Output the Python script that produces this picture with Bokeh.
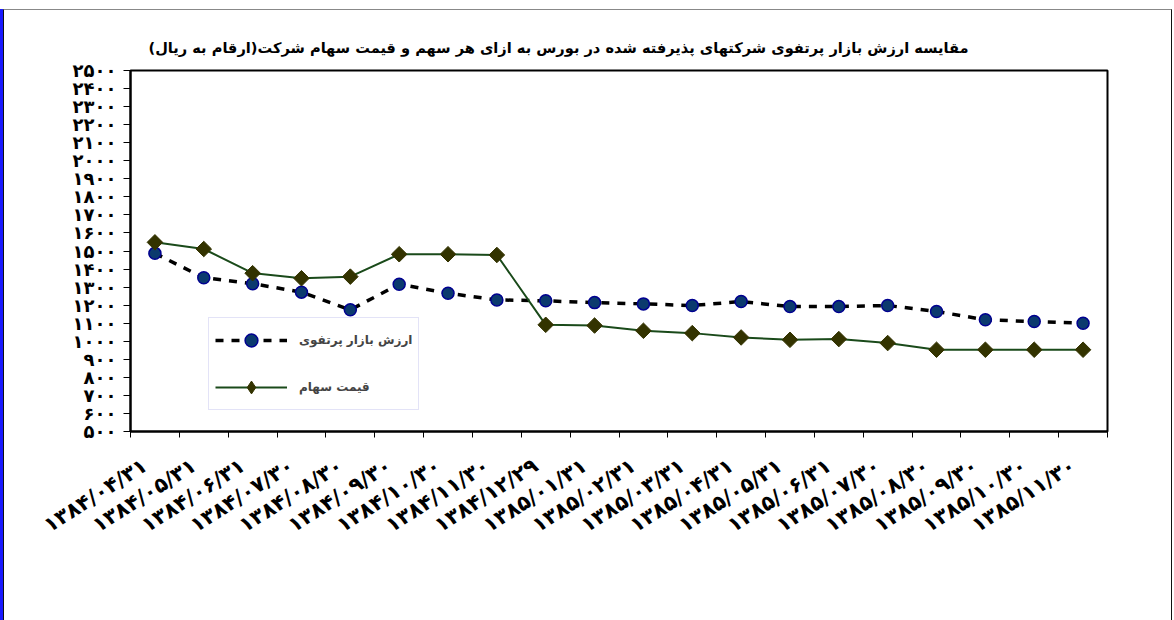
import math
from bokeh.plotting import figure
from bokeh.models import ColumnDataSource, Range1d, FixedTicker, Legend, LegendItem, Title
from bokeh.embed import file_html
from bokeh.resources import INLINE

FA = str.maketrans("0123456789", "۰۱۲۳۴۵۶۷۸۹")

dates = ["۱۳۸۴/۰۴/۳۱", "۱۳۸۴/۰۵/۳۱", "۱۳۸۴/۰۶/۳۱", "۱۳۸۴/۰۷/۳۰", "۱۳۸۴/۰۸/۳۰",
         "۱۳۸۴/۰۹/۳۰", "۱۳۸۴/۱۰/۳۰", "۱۳۸۴/۱۱/۳۰", "۱۳۸۴/۱۲/۲۹", "۱۳۸۵/۰۱/۳۱",
         "۱۳۸۵/۰۲/۳۱", "۱۳۸۵/۰۳/۳۱", "۱۳۸۵/۰۴/۳۱", "۱۳۸۵/۰۵/۳۱", "۱۳۸۵/۰۶/۳۱",
         "۱۳۸۵/۰۷/۳۰", "۱۳۸۵/۰۸/۳۰", "۱۳۸۵/۰۹/۳۰", "۱۳۸۵/۱۰/۳۰", "۱۳۸۵/۱۱/۳۰"]
portfolio = [1487, 1352, 1319, 1272, 1174, 1316, 1266, 1229, 1224, 1214,
             1207, 1198, 1220, 1192, 1192, 1198, 1165, 1119, 1109, 1100]
price = [1548, 1511, 1377, 1349, 1358, 1482, 1482, 1478, 1091, 1087,
         1058, 1045, 1021, 1008, 1012, 990, 953, 953, 953, 953]
y_ticks = list(range(500, 2501, 100))
y_tick_labels = [str(v).translate(FA) for v in y_ticks]

title_text = "مقایسه ارزش بازار پرتفوی شرکتهای پذیرفته شده  در بورس  به ازای هر سهم و قیمت سهام شرکت(ارقام به ریال)"
name_portfolio = "ارزش بازار پرتفوی"
name_price = "قیمت سهام"

x_centers = [i + 0.5 for i in range(len(dates))]
x_bounds = list(range(len(dates) + 1))
LABEL_SHIFT = 0.2  # rotated labels sit a little left of their category centre
x_label_pos = [c - LABEL_SHIFT for c in x_centers]

src = ColumnDataSource(dict(x=x_centers, portfolio=portfolio, price=price))
legend_src = ColumnDataSource(dict(x=[float("nan")], y=[float("nan")]))

FONT = "DejaVu Sans"

p = figure(width=1169, height=611, output_backend="svg", toolbar_location=None,
           x_range=Range1d(0, len(dates)), y_range=Range1d(500, 2500),
           min_border_left=126, min_border_right=66, min_border_top=60, min_border_bottom=190)
p.margin = (9, 0, 0, 3)
p.styles = {"border-top": "1px solid #888", "border-right": "1px solid #111",
            "border-left": "1px solid #111", "box-shadow": "-3px 0 0 0 #1a1aff"}
p.xgrid.visible = False
p.ygrid.visible = False
p.outline_line_color = "black"
p.outline_line_width = 2
p.background_fill_color = "white"
p.border_fill_color = "white"

# x axis
p.xaxis.ticker = FixedTicker(ticks=x_label_pos, minor_ticks=x_bounds)
p.xaxis.major_label_overrides = {c: d for c, d in zip(x_label_pos, dates)}
p.xaxis.major_tick_line_color = None
p.xaxis.minor_tick_out = 6
p.xaxis.minor_tick_in = 0
p.xaxis.minor_tick_line_color = "black"
p.xaxis.minor_tick_line_width = 1
p.xaxis.axis_line_width = 2
p.xaxis.major_label_orientation = 0.57
p.xaxis.major_label_standoff = 26
p.xaxis.major_label_text_font = FONT
p.xaxis.major_label_text_font_style = "bold"
p.xaxis.major_label_text_font_size = "21px"
p.xaxis.major_label_text_color = "black"

# y axis
p.yaxis.ticker = FixedTicker(ticks=y_ticks, minor_ticks=[])
p.yaxis.major_label_overrides = {v: l for v, l in zip(y_ticks, y_tick_labels)}
p.yaxis.major_tick_out = 7
p.yaxis.major_tick_in = 0
p.yaxis.axis_line_width = 2
p.yaxis.major_label_standoff = 7
p.yaxis.major_label_text_font = FONT
p.yaxis.major_label_text_font_style = "bold"
p.yaxis.major_label_text_font_size = "18px"
p.yaxis.major_label_text_color = "black"

# series
l1 = p.line("x", "portfolio", source=src, line_color="black", line_width=3.5, line_dash="8 8")
m1 = p.scatter("x", "portfolio", source=src, marker="circle", size=12,
               fill_color="#0b3a6e", line_color="#000090", line_width=1.5)
l2 = p.line("x", "price", source=src, line_color="#1a4a1a", line_width=2)
m2 = p.scatter("x", "price", source=src, marker="square", angle=math.pi / 4, size=11,
               fill_color="#333300", line_color="#333300")
m2_leg = p.scatter("x", "y", source=legend_src, marker="diamond", size=17,
                   fill_color="#333300", line_color="#333300")

legend = Legend(items=[LegendItem(label=name_portfolio, renderers=[l1, m1]),
                       LegendItem(label=name_price, renderers=[l2, m2_leg])],
                location=(78, 21), orientation="vertical",
                glyph_width=72, glyph_height=32, label_height=20,
                spacing=15, padding=6, margin=0,
                label_text_font=FONT, label_text_font_style="bold",
                label_text_font_size="12px", label_standoff=12,
                border_line_color="#c8c8f0", border_line_width=1,
                background_fill_color="white", background_fill_alpha=1)
p.add_layout(legend, "center")

title = Title(text=title_text + "\u200f", align="left", offset=18, standoff=30,
              text_font=FONT, text_font_style="bold", text_font_size="14.6px",
              text_color="black")
p.add_layout(title, "above")

open("out.html", "w").write(file_html(p, INLINE))
